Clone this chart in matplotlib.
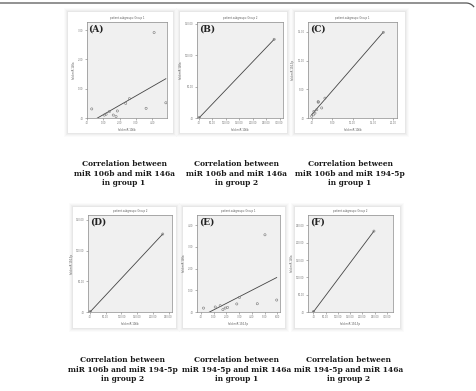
import numpy as np
import matplotlib.pyplot as plt
from matplotlib.patches import Rectangle

W, H = 476, 391
DPI = 100

# values (tick labels are illegible,
# so units are only approximate)
a_x = [0.29, 1.06, 1.17, 1.37, 1.61, 1.78, 1.86, 2.37, 2.60, 3.62, 4.11, 4.83]
a_y = [0.31, 0.10, 0.13, 0.22, 0.10, 0.05, 0.24, 0.50, 0.66, 0.33, 2.92, 0.52]
b_x = [0.0, 2.0, 280.0]
b_y = [0.0, 1.0, 125.4]
c_x = [0.0, 0.4, 0.55, 0.8, 1.25, 1.6, 1.6, 2.45, 3.25, 17.55]
c_y = [0.3, 0.55, 1.15, 0.85, 1.45, 2.85, 2.75, 1.75, 3.45, 14.9]
d_x = [0.0, 1.5, 231.5]
d_y = [0.0, 0.8, 127.0]
e_x = [0.20, 1.12, 1.51, 1.72, 1.90, 2.08, 2.81, 3.02, 4.42, 5.02, 5.94]
e_y = [0.18, 0.23, 0.29, 0.11, 0.18, 0.21, 0.37, 0.67, 0.38, 3.55, 0.55]
f_x = [0.0, 1.5, 246.5]
f_y = [0.0, 1.2, 233.5]

letters = ["(A)", "(B)", "(C)", "(D)", "(E)", "(F)"]
groups = ["Group 1", "Group 2", "Group 1", "Group 2", "Group 1", "Group 2"]
x_names = ["fold miR 106b", "fold miR 106b", "fold miR 106b",
           "fold miR 106b", "fold miR 194-5p", "fold miR 194-5p"]
y_names = ["fold miR 146a", "fold miR 146a", "fold miR 194-5p",
           "fold miR 194-5p", "fold miR 146a", "fold miR 146a"]
captions = [
    "Correlation between\nmiR 106b and miR 146a\nin group 1",
    "Correlation between\nmiR 106b and miR 146a\nin group 2",
    "Correlation between\nmiR 106b and miR 194-5p\nin group 1",
    "Correlation between\nmiR 106b and miR 194-5p\nin group 2",
    "Correlation between\nmiR 194-5p and miR 146a\nin group 1",
    "Correlation between\nmiR 194-5p and miR 146a\nin group 2",
]
x_ticks = [np.arange(0, 5, 1.0), np.arange(0, 301, 50.0), np.arange(0, 21, 5.0),
           np.arange(0, 251, 50.0), np.arange(0, 7, 1.0), np.arange(0, 301, 50.0)]
y_ticks = [np.arange(0, 4, 1.0), np.arange(0, 151, 50.0), np.arange(0, 16, 5.0),
           np.arange(0, 151, 50.0), np.arange(0, 5, 1.0), np.arange(0, 251, 50.0)]
x_lims = [(0, 4.9), (-7.5, 313), (-0.9, 20.9), (-6.4, 261), (-0.31, 6.2), (-21.5, 324)]
y_lims = [(0, 3.28), (0, 153), (0, 16.7), (0, 158), (0, 4.46), (0, 280)]

# layout in pixels: plot box (x0, y0, x1, y1), card (x0, y0, x1, y1), caption centre
boxes = [(87, 22, 167, 118), (197, 22, 283, 118), (308, 22, 397, 118),
         (88, 215, 172, 312), (197, 215, 280, 312), (308, 215, 393, 312)]
cards = [(68, 12, 173, 133), (180, 12, 287, 133), (295, 12, 405, 133),
         (73, 207, 176, 328), (183, 207, 285, 328), (295, 207, 400, 328)]
cap_pos = [(124, 173.5), (236.5, 173.5), (350, 173.5),
           (123, 369.5), (236.5, 369.5), (348.5, 369.5)]

fig = plt.figure(figsize=(W / DPI, H / DPI), dpi=DPI)
bg = fig.add_axes([0, 0, 1, 1])
bg.set_xlim(0, W)
bg.set_ylim(H, 0)
bg.axis("off")

# frame line along the top, bending down at the right edge
r = 10
th = np.linspace(np.pi / 2, np.pi / 5, 20)
fx = np.concatenate([[0], 466 + r * np.cos(th)])
fy = np.concatenate([[3], 3 + r - r * np.sin(th)])
bg.plot(fx, fy, color="#555555", lw=0.9, solid_capstyle="butt")

for (x0, y0, x1, y1) in cards:
    for k, a in [(4, 0.03), (3, 0.04), (2, 0.05), (1, 0.07)]:
        bg.add_patch(Rectangle((x0 - k, y0 - k), x1 - x0 + 2 * k, y1 - y0 + 2 * k,
                               fc="#808080", ec="none", alpha=a))
    bg.add_patch(Rectangle((x0, y0), x1 - x0, y1 - y0, fc="white", ec="none"))

for (cx, cy), txt in zip(cap_pos, captions):
    bg.text(cx, cy, txt, ha="center", va="center", multialignment="center",
            family="DejaVu Serif", fontweight="bold", fontsize=5.4,
            linespacing=1.3, color="#1a1a1a")

xs_all = [a_x, b_x, c_x, d_x, e_x, f_x]
ys_all = [a_y, b_y, c_y, d_y, e_y, f_y]

for i in range(6):
    x0, y0, x1, y1 = boxes[i]
    ax = fig.add_axes([x0 / W, 1 - y1 / H, (x1 - x0) / W, (y1 - y0) / H])
    ax.set_facecolor("#f0f0f0")
    for s in ax.spines.values():
        s.set_color("#8a8a8a")
        s.set_linewidth(0.5)
    x = np.array(xs_all[i])
    y = np.array(ys_all[i])
    ax.scatter(x, y, s=2.5, facecolors="none", edgecolors="#777777", linewidths=0.4,
               zorder=3)
    k, b = np.polyfit(x, y, 1)
    xl = np.array([x.min(), x.max()])
    ax.plot(xl, k * xl + b, color="#444444", lw=0.6, zorder=2)
    ax.set_xlim(*x_lims[i])
    ax.set_ylim(*y_lims[i])
    ax.set_xticks(x_ticks[i])
    ax.set_yticks(y_ticks[i])
    ax.set_xticklabels(["%.2f" % v if v else ".00" for v in x_ticks[i]])
    ax.set_yticklabels(["%.2f" % v if v else ".00" for v in y_ticks[i]])
    ax.tick_params(length=1.5, width=0.4, pad=1, labelsize=1.8, colors="#777777")
    ax.set_xlabel(x_names[i], fontsize=1.8, labelpad=1.5, color="#555555")
    ax.set_ylabel(y_names[i], fontsize=1.8, labelpad=1.5, color="#555555")
    ax.set_title("patient.subgroups: " + groups[i], fontsize=1.8, pad=2, color="#555555")
    ax.text(0.02, 0.97, letters[i], transform=ax.transAxes, ha="left", va="top",
            family="DejaVu Serif", fontweight="bold", fontsize=6.5, color="#222222")

fig.savefig("out.png", dpi=DPI)
